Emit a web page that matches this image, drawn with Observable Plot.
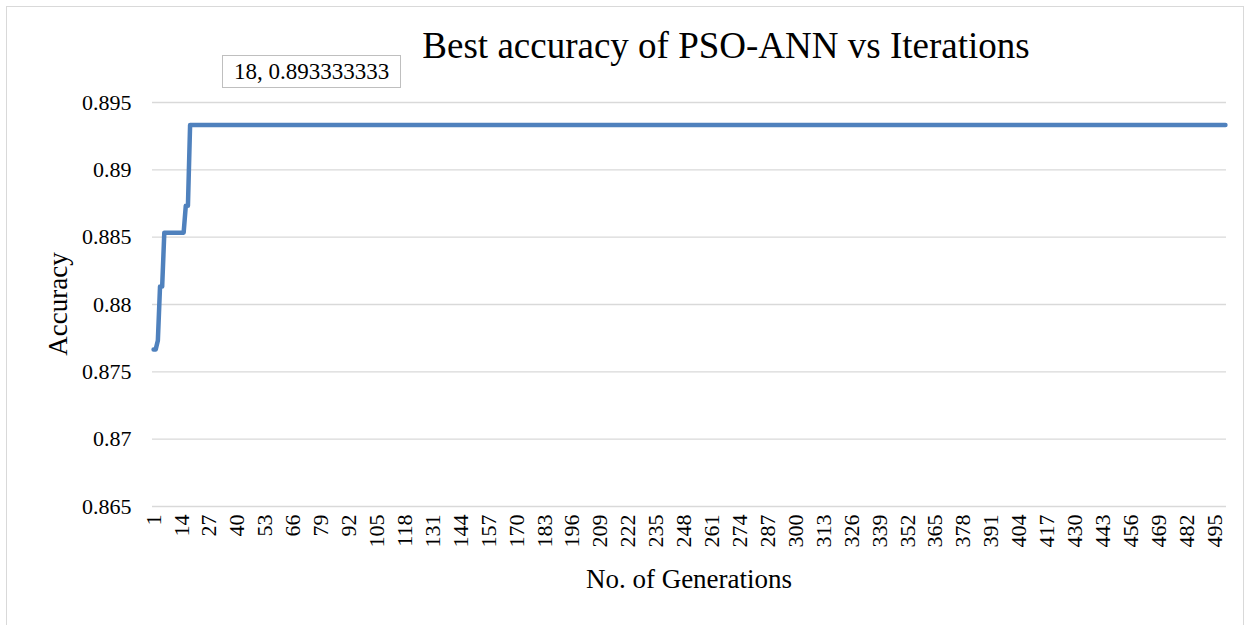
<!DOCTYPE html>
<html>
<head>
<meta charset="utf-8">
<script src="https://cdn.jsdelivr.net/npm/d3@7"></script>
<script src="https://cdn.jsdelivr.net/npm/@observablehq/plot@0.6"></script>
<style>
  html, body { margin: 0; padding: 0; background: #fff; }
  #wrap { position: relative; width: 1252px; height: 625px; overflow: hidden; font-family: "Liberation Serif", "Times New Roman", serif; color: #000; }
  #frame { position: absolute; left: 6px; top: 6px; width: 1238px; height: 640px; border: 1px solid #d9d9d9; box-sizing: border-box; }
  #chart { position: absolute; left: 0; top: 0; }
  #chart svg, #chart svg text { font-family: "Liberation Serif", "Times New Roman", serif !important; }
  .txt { position: absolute; white-space: nowrap; line-height: 1; }
</style>
</head>
<body>
<div id="wrap">
  <div id="frame"></div>
  <div id="chart"></div>
  <div class="txt" id="title" style="left:726px; top:27px; transform:translateX(-50%); font-size:37px;">Best accuracy of PSO-ANN vs Iterations</div>
  <div class="txt" id="ylab" style="left:58px; top:304px; transform:translate(-50%,-50%) rotate(-90deg); font-size:27px;">Accuracy</div>
  <div class="txt" id="xlab" style="left:689px; top:566px; transform:translateX(-50%); font-size:27px;">No. of Generations</div>
  <div class="txt" id="note" style="left:222px; top:55px; width:179px; height:33px; border:1px solid #bfbfbf; box-sizing:border-box; display:flex; align-items:center; justify-content:center; font-size:23px; background:#fff;">18, 0.893333333</div>
</div>
<script>
// Best accuracy per generation (1..500)
const accuracy = [
  0.876667,0.876667,0.877333,0.881333,0.881333,0.885333,0.885333,0.885333,0.885333,0.885333,
  0.885333,0.885333,0.885333,0.885333,0.885333,0.887333,0.887333,0.893333,0.893333,0.893333,
  0.893333,0.893333,0.893333,0.893333,0.893333,0.893333,0.893333,0.893333,0.893333,0.893333,
  0.893333,0.893333,0.893333,0.893333,0.893333,0.893333,0.893333,0.893333,0.893333,0.893333,
  0.893333,0.893333,0.893333,0.893333,0.893333,0.893333,0.893333,0.893333,0.893333,0.893333,
  0.893333,0.893333,0.893333,0.893333,0.893333,0.893333,0.893333,0.893333,0.893333,0.893333,
  0.893333,0.893333,0.893333,0.893333,0.893333,0.893333,0.893333,0.893333,0.893333,0.893333,
  0.893333,0.893333,0.893333,0.893333,0.893333,0.893333,0.893333,0.893333,0.893333,0.893333,
  0.893333,0.893333,0.893333,0.893333,0.893333,0.893333,0.893333,0.893333,0.893333,0.893333,
  0.893333,0.893333,0.893333,0.893333,0.893333,0.893333,0.893333,0.893333,0.893333,0.893333,
  0.893333,0.893333,0.893333,0.893333,0.893333,0.893333,0.893333,0.893333,0.893333,0.893333,
  0.893333,0.893333,0.893333,0.893333,0.893333,0.893333,0.893333,0.893333,0.893333,0.893333,
  0.893333,0.893333,0.893333,0.893333,0.893333,0.893333,0.893333,0.893333,0.893333,0.893333,
  0.893333,0.893333,0.893333,0.893333,0.893333,0.893333,0.893333,0.893333,0.893333,0.893333,
  0.893333,0.893333,0.893333,0.893333,0.893333,0.893333,0.893333,0.893333,0.893333,0.893333,
  0.893333,0.893333,0.893333,0.893333,0.893333,0.893333,0.893333,0.893333,0.893333,0.893333,
  0.893333,0.893333,0.893333,0.893333,0.893333,0.893333,0.893333,0.893333,0.893333,0.893333,
  0.893333,0.893333,0.893333,0.893333,0.893333,0.893333,0.893333,0.893333,0.893333,0.893333,
  0.893333,0.893333,0.893333,0.893333,0.893333,0.893333,0.893333,0.893333,0.893333,0.893333,
  0.893333,0.893333,0.893333,0.893333,0.893333,0.893333,0.893333,0.893333,0.893333,0.893333,
  0.893333,0.893333,0.893333,0.893333,0.893333,0.893333,0.893333,0.893333,0.893333,0.893333,
  0.893333,0.893333,0.893333,0.893333,0.893333,0.893333,0.893333,0.893333,0.893333,0.893333,
  0.893333,0.893333,0.893333,0.893333,0.893333,0.893333,0.893333,0.893333,0.893333,0.893333,
  0.893333,0.893333,0.893333,0.893333,0.893333,0.893333,0.893333,0.893333,0.893333,0.893333,
  0.893333,0.893333,0.893333,0.893333,0.893333,0.893333,0.893333,0.893333,0.893333,0.893333,
  0.893333,0.893333,0.893333,0.893333,0.893333,0.893333,0.893333,0.893333,0.893333,0.893333,
  0.893333,0.893333,0.893333,0.893333,0.893333,0.893333,0.893333,0.893333,0.893333,0.893333,
  0.893333,0.893333,0.893333,0.893333,0.893333,0.893333,0.893333,0.893333,0.893333,0.893333,
  0.893333,0.893333,0.893333,0.893333,0.893333,0.893333,0.893333,0.893333,0.893333,0.893333,
  0.893333,0.893333,0.893333,0.893333,0.893333,0.893333,0.893333,0.893333,0.893333,0.893333,
  0.893333,0.893333,0.893333,0.893333,0.893333,0.893333,0.893333,0.893333,0.893333,0.893333,
  0.893333,0.893333,0.893333,0.893333,0.893333,0.893333,0.893333,0.893333,0.893333,0.893333,
  0.893333,0.893333,0.893333,0.893333,0.893333,0.893333,0.893333,0.893333,0.893333,0.893333,
  0.893333,0.893333,0.893333,0.893333,0.893333,0.893333,0.893333,0.893333,0.893333,0.893333,
  0.893333,0.893333,0.893333,0.893333,0.893333,0.893333,0.893333,0.893333,0.893333,0.893333,
  0.893333,0.893333,0.893333,0.893333,0.893333,0.893333,0.893333,0.893333,0.893333,0.893333,
  0.893333,0.893333,0.893333,0.893333,0.893333,0.893333,0.893333,0.893333,0.893333,0.893333,
  0.893333,0.893333,0.893333,0.893333,0.893333,0.893333,0.893333,0.893333,0.893333,0.893333,
  0.893333,0.893333,0.893333,0.893333,0.893333,0.893333,0.893333,0.893333,0.893333,0.893333,
  0.893333,0.893333,0.893333,0.893333,0.893333,0.893333,0.893333,0.893333,0.893333,0.893333,
  0.893333,0.893333,0.893333,0.893333,0.893333,0.893333,0.893333,0.893333,0.893333,0.893333,
  0.893333,0.893333,0.893333,0.893333,0.893333,0.893333,0.893333,0.893333,0.893333,0.893333,
  0.893333,0.893333,0.893333,0.893333,0.893333,0.893333,0.893333,0.893333,0.893333,0.893333,
  0.893333,0.893333,0.893333,0.893333,0.893333,0.893333,0.893333,0.893333,0.893333,0.893333,
  0.893333,0.893333,0.893333,0.893333,0.893333,0.893333,0.893333,0.893333,0.893333,0.893333,
  0.893333,0.893333,0.893333,0.893333,0.893333,0.893333,0.893333,0.893333,0.893333,0.893333,
  0.893333,0.893333,0.893333,0.893333,0.893333,0.893333,0.893333,0.893333,0.893333,0.893333,
  0.893333,0.893333,0.893333,0.893333,0.893333,0.893333,0.893333,0.893333,0.893333,0.893333,
  0.893333,0.893333,0.893333,0.893333,0.893333,0.893333,0.893333,0.893333,0.893333,0.893333,
  0.893333,0.893333,0.893333,0.893333,0.893333,0.893333,0.893333,0.893333,0.893333,0.893333
];
const xTicks = [1,14,27,40,53,66,79,92,105,118,131,144,157,170,183,196,209,222,235,248,261,274,287,300,313,326,339,352,365,378,391,404,417,430,443,456,469,482,495];
const yTicks = [0.865,0.87,0.875,0.88,0.885,0.89,0.895];
const yTickLabels = ["0.865","0.87","0.875","0.88","0.885","0.89","0.895"];

const data = accuracy.map((v, i) => ({gen: i + 1, acc: v}));
const nGen = accuracy.length;

const chart = Plot.plot({
  width: 1252,
  height: 625,
  marginLeft: 152,
  marginRight: 26,
  marginTop: 102,
  marginBottom: 119,
  style: {fontFamily: '"Liberation Serif", "Times New Roman", serif', background: "transparent", color: "#000"},
  x: {type: "linear", domain: [0.5, nGen + 0.5]},
  y: {domain: [0.865, 0.895]},
  marks: [
    Plot.ruleY(yTicks, {stroke: "#d9d9d9", strokeWidth: 1.3, strokeOpacity: 1}),
    Plot.axisY({ticks: yTicks, tickFormat: (d) => yTickLabels[yTicks.indexOf(d)], tickSize: 0, tickPadding: 21, fontSize: 22, label: null}),
    Plot.axisX({ticks: xTicks, tickFormat: (d) => String(d), tickRotate: -90, tickSize: 0, tickPadding: 8, fontSize: 22, label: null}),
    Plot.line(data, {x: "gen", y: "acc", stroke: "#4f81bd", strokeWidth: 4.5, strokeLinejoin: "round", strokeLinecap: "round"})
  ]
});
document.getElementById("chart").appendChild(chart);
</script>
</body>
</html>
